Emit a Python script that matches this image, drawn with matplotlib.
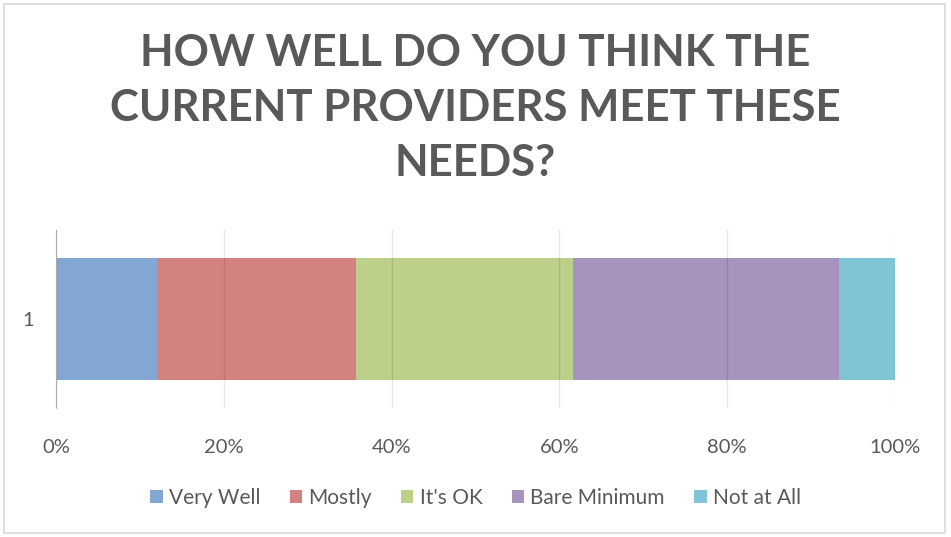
import matplotlib.pyplot as plt
from matplotlib.patches import Rectangle
from matplotlib.ticker import PercentFormatter

# survey answers, share of respondents (%)
categories = ["Very Well", "Mostly", "It's OK", "Bare Minimum", "Not at All"]
shares = [12.0, 23.8, 25.8, 31.7, 6.7]
colors = ["#82a7d3", "#d4827f", "#bcd08a", "#a693be", "#80c5d6"]
row_labels = ["1"]

plt.rcParams['font.family'] = ['Lato', 'DejaVu Sans']
text_gray = "#595959"

fig = plt.figure(figsize=(9.51, 5.37), dpi=100)
ax = fig.add_axes([0.0589, 0.2402, 0.8822, 0.3315])

# stacked bar, one segment per answer
left = 0
for name, val, col in zip(categories, shares, colors):
    ax.barh(0, val, left=left, height=0.68, color=col, label=name, zorder=2)
    left += val

ax.set_xlim(0, 100)
ax.set_ylim(-0.5, 0.5)
ax.set_xticks(range(0, 101, 20))
ax.xaxis.set_major_formatter(PercentFormatter(decimals=0))
ax.set_yticks([0])
ax.set_yticklabels(row_labels)
ax.tick_params(axis='x', length=0, pad=22, labelsize=14.5, labelcolor=text_gray)
ax.tick_params(axis='y', length=0, pad=16, labelsize=14.5, labelcolor=text_gray)
ax.grid(axis='x', color='#000000', alpha=0.1, linewidth=1, zorder=3)
ax.set_axisbelow(False)
for side in ['top', 'right', 'bottom']:
    ax.spines[side].set_visible(False)
ax.spines['left'].set_color('#bfbfbf')

fig.text(0.5, 0.799, "HOW WELL DO YOU THINK THE\nCURRENT PROVIDERS MEET THESE\nNEEDS?",
         ha='center', va='center', fontsize=31.5, fontweight='bold',
         color=text_gray, linespacing=1.45)

fig.legend(loc='center', bbox_to_anchor=(0.5, 0.073), ncol=5, frameon=False,
           fontsize=15, handlelength=0.6, handleheight=0.6, handletextpad=0.3,
           columnspacing=1.4, labelcolor=text_gray)

# light frame round the whole chart
fig.patches.append(Rectangle((0.004, 0.008), 0.99, 0.985, transform=fig.transFigure,
                             fill=False, edgecolor='#d9d9d9', linewidth=1.2))

fig.savefig("out.png", dpi=100)
